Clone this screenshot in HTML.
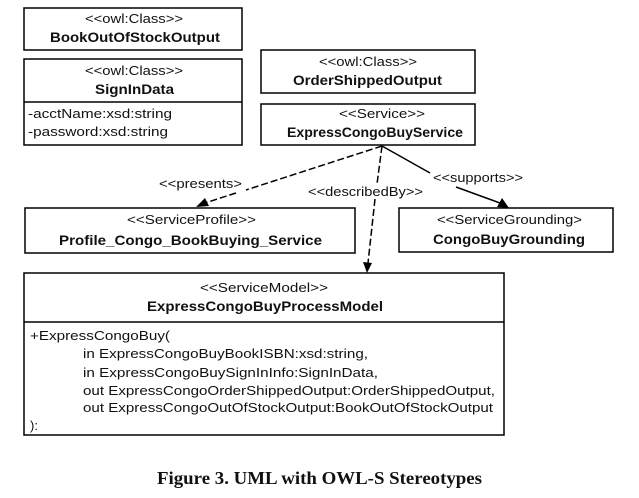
<!DOCTYPE html>
<html><head><meta charset="utf-8"><style>
html,body{margin:0;padding:0;background:#fff;}
svg{display:block;}
text{font-family:"Liberation Sans",Arial,sans-serif;fill:#111;}
.s{font-size:13px;}
.b{font-size:14px;font-weight:bold;}
</style></head><body>
<svg width="639" height="498" viewBox="0 0 639 498" xmlns="http://www.w3.org/2000/svg">
<g fill="none" stroke="#000" stroke-width="1.5">
<rect x="24" y="8" width="218" height="42"/>
<rect x="24" y="59" width="218" height="86"/>
<line x1="24" y1="102" x2="242" y2="102"/>
<rect x="261" y="50" width="214" height="43"/>
<rect x="261" y="104" width="214" height="41"/>
<rect x="25" y="208" width="330" height="45"/>
<rect x="399" y="208" width="214" height="44"/>
<rect x="24" y="273" width="480" height="162"/>
<line x1="24" y1="322" x2="504" y2="322"/>
</g>
<g stroke="#000" stroke-width="1.5" fill="none">
<line x1="382" y1="146" x2="246" y2="190" stroke-dasharray="7,3"/>
<line x1="236" y1="193" x2="205" y2="203" stroke-dasharray="7,3"/>
<line x1="382" y1="146" x2="377" y2="184" stroke-dasharray="7,3"/>
<line x1="375" y1="199" x2="368" y2="263" stroke-dasharray="7,3"/>
<line x1="382" y1="146" x2="430" y2="173"/>
<line x1="456" y1="187" x2="500" y2="203"/>
</g>
<g fill="#000">
<polygon points="196,207 205,198 209,206"/>
<polygon points="367,273 363,262 372,263"/>
<polygon points="509,208 497,207 502,198"/>
</g>
<g>
<text class="s" x="85" y="23" textLength="98" lengthAdjust="spacingAndGlyphs">&lt;&lt;owl:Class&gt;&gt;</text>
<text class="b" x="50" y="42" textLength="170" lengthAdjust="spacingAndGlyphs">BookOutOfStockOutput</text>
<text class="s" x="85" y="75" textLength="98" lengthAdjust="spacingAndGlyphs">&lt;&lt;owl:Class&gt;&gt;</text>
<text class="b" x="95" y="94" textLength="79" lengthAdjust="spacingAndGlyphs">SignInData</text>
<text class="s" x="28" y="118" textLength="144" lengthAdjust="spacingAndGlyphs">-acctName:xsd:string</text>
<text class="s" x="28" y="136" textLength="140" lengthAdjust="spacingAndGlyphs">-password:xsd:string</text>
<text class="s" x="319" y="66" textLength="98" lengthAdjust="spacingAndGlyphs">&lt;&lt;owl:Class&gt;&gt;</text>
<text class="b" x="293" y="85" textLength="149" lengthAdjust="spacingAndGlyphs">OrderShippedOutput</text>
<text class="s" x="339" y="118" textLength="86" lengthAdjust="spacingAndGlyphs">&lt;&lt;Service&gt;&gt;</text>
<text class="b" x="287" y="137" textLength="176" lengthAdjust="spacingAndGlyphs">ExpressCongoBuyService</text>
<text class="s" x="159" y="188" textLength="83" lengthAdjust="spacingAndGlyphs">&lt;&lt;presents&gt;</text>
<text class="s" x="308" y="196" textLength="115" lengthAdjust="spacingAndGlyphs">&lt;&lt;describedBy&gt;&gt;</text>
<text class="s" x="433" y="182" textLength="90" lengthAdjust="spacingAndGlyphs">&lt;&lt;supports&gt;&gt;</text>
<text class="s" x="127" y="224" textLength="129" lengthAdjust="spacingAndGlyphs">&lt;&lt;ServiceProfile&gt;&gt;</text>
<text class="b" x="59" y="245" textLength="263" lengthAdjust="spacingAndGlyphs">Profile_Congo_BookBuying_Service</text>
<text class="s" x="437" y="224" textLength="145" lengthAdjust="spacingAndGlyphs">&lt;&lt;ServiceGrounding&gt;</text>
<text class="b" x="433" y="244" textLength="152" lengthAdjust="spacingAndGlyphs">CongoBuyGrounding</text>
<text class="s" x="200" y="292" textLength="128" lengthAdjust="spacingAndGlyphs">&lt;&lt;ServiceModel&gt;&gt;</text>
<text class="b" x="147" y="311" textLength="236" lengthAdjust="spacingAndGlyphs">ExpressCongoBuyProcessModel</text>
<text class="s" x="30" y="340" textLength="140" lengthAdjust="spacingAndGlyphs">+ExpressCongoBuy(</text>
<text class="s" x="83" y="358" textLength="285" lengthAdjust="spacingAndGlyphs">in ExpressCongoBuyBookISBN:xsd:string,</text>
<text class="s" x="83" y="377" textLength="295" lengthAdjust="spacingAndGlyphs">in ExpressCongoBuySignInInfo:SignInData,</text>
<text class="s" x="83" y="395" textLength="412" lengthAdjust="spacingAndGlyphs">out ExpressCongoOrderShippedOutput:OrderShippedOutput,</text>
<text class="s" x="83" y="412" textLength="410" lengthAdjust="spacingAndGlyphs">out ExpressCongoOutOfStockOutput:BookOutOfStockOutput</text>
<text class="s" x="30" y="430">):</text>
<text x="157" y="484" textLength="325" lengthAdjust="spacingAndGlyphs" style="font-family:'Liberation Serif',serif;font-weight:bold;font-size:18px;">Figure 3. UML with OWL-S Stereotypes</text>
</g>
</svg>
</body></html>
